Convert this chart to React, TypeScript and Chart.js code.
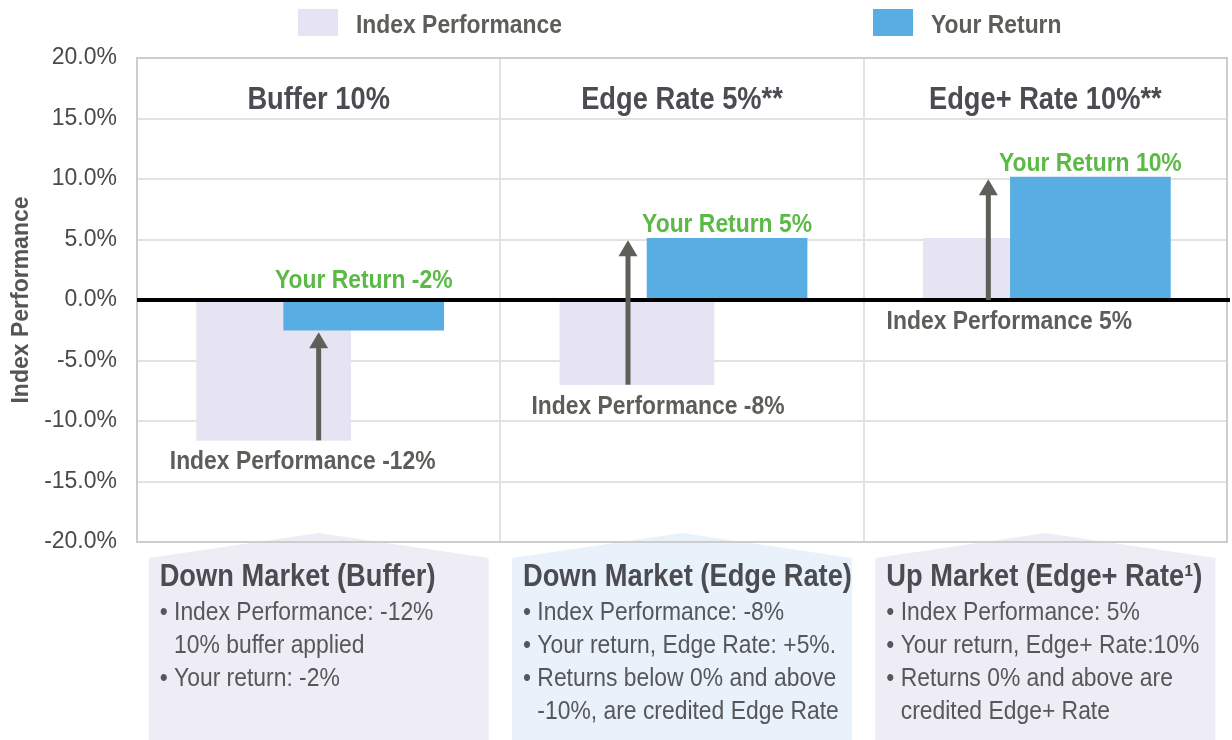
import React, { useEffect, useRef } from "react";
import { Chart, registerables } from "chart.js";

Chart.register(...registerables);

// ---------- data ----------
const CATEGORIES = ["Buffer 10%", "Edge Rate 5%**", "Edge+ Rate 10%**"];
const SERIES_NAMES = ["Index Performance", "Your Return"];
const INDEX_PERFORMANCE = [-11.6, -7.0, 5.1];
const YOUR_RETURN = [-2.5, 5.1, 10.15];
const Y_TICKS = [-20, -15, -10, -5, 0, 5, 10, 15, 20];
const RETURN_LABELS = ["Your Return -2%", "Your Return 5%", "Your Return 10%"];
const INDEX_LABELS = [
  "Index Performance -12%",
  "Index Performance -8%",
  "Index Performance 5%",
];
const BOX_TITLES = [
  "Down Market (Buffer)",
  "Down Market (Edge Rate)",
  "Up Market (Edge+ Rate\u00B9)",
];
// lines beginning with "• " are bullets, others continue the previous bullet
const BOX_LINES = [
  ["• Index Performance: -12%", "10% buffer applied", "• Your return: -2%"],
  [
    "• Index Performance: -8%",
    "• Your return, Edge Rate: +5%.",
    "• Returns below 0% and above",
    "-10%, are credited Edge Rate",
  ],
  [
    "• Index Performance: 5%",
    "• Your return, Edge+ Rate:10%",
    "• Returns 0% and above are",
    "credited Edge+ Rate",
  ],
];

// ---------- styles ----------
const FONT = '"Liberation Sans", Arial, sans-serif';
const SQUEEZE = 0.88; // narrow-font look
const INDEX_COLOR = "#e6e4f2";
const RETURN_COLOR = "#58aee2";
const GREEN = "#5bb946";
const LABEL_GRAY = "#5d5d59";
const TITLE_GRAY = "#4a4c51";
const ARROW_COLOR = "#5f5f5a";
const BOX_COLORS = ["#eeedf6", "#e9f1fa", "#eeedf6"];
const BAR_SHIFT = 0.124; // fraction of a panel
const ARROW_SHIFT = [0, -54, -57];
const INDEX_LABEL_SHIFT = [-16, -24, -36];

function narrowText(
  ctx: CanvasRenderingContext2D,
  str: string,
  x: number,
  y: number,
  font: string,
  color: string,
  align: CanvasTextAlign
) {
  ctx.save();
  ctx.font = font;
  ctx.fillStyle = color;
  ctx.textAlign = align;
  ctx.textBaseline = "alphabetic";
  ctx.translate(x, y);
  ctx.scale(SQUEEZE, 1);
  ctx.fillText(str, 0, 0);
  ctx.restore();
}

function drawArrow(ctx: CanvasRenderingContext2D, x: number, y0: number, y1: number) {
  const head = 16;
  const hw = 9.5;
  const shaft = 5;
  ctx.fillStyle = ARROW_COLOR;
  ctx.fillRect(x - shaft / 2, y1 + head - 1, shaft, y0 - (y1 + head - 1));
  ctx.beginPath();
  ctx.moveTo(x, y1);
  ctx.lineTo(x + hw, y1 + head);
  ctx.lineTo(x - hw, y1 + head);
  ctx.closePath();
  ctx.fill();
}

const decorPlugin = {
  id: "decor",
  beforeDraw(chart: any) {
    const ctx: CanvasRenderingContext2D = chart.ctx;
    const ca = chart.chartArea;
    const xs = chart.scales.x;
    ctx.save();
    // legend
    const legendX = [298, 873];
    const legendColors = [INDEX_COLOR, RETURN_COLOR];
    SERIES_NAMES.forEach((name, i) => {
      ctx.fillStyle = legendColors[i];
      ctx.fillRect(legendX[i], 9, 40, 27);
      narrowText(ctx, name, legendX[i] + 58, 33, `bold 26px ${FONT}`, LABEL_GRAY, "left");
    });
    // explanation boxes
    CATEGORIES.forEach((_, i) => {
      const cx = xs.getPixelForValue(i + 0.5);
      const w = 340;
      const l = cx - w / 2;
      const r = cx + w / 2;
      const peakY = ca.bottom - 9;
      const shoulderY = ca.bottom + 16;
      const bottom = chart.height;
      ctx.fillStyle = BOX_COLORS[i];
      ctx.beginPath();
      ctx.moveTo(l, bottom);
      ctx.lineTo(l, shoulderY);
      ctx.lineTo(cx, peakY);
      ctx.lineTo(r, shoulderY);
      ctx.lineTo(r, bottom);
      ctx.closePath();
      ctx.fill();
      const tx = l + 11;
      narrowText(ctx, BOX_TITLES[i], tx, ca.bottom + 44, `bold 31px ${FONT}`, TITLE_GRAY, "left");
      const bodyFont = `26px ${FONT}`;
      ctx.font = bodyFont;
      const indent = ctx.measureText("• ").width * SQUEEZE;
      BOX_LINES[i].forEach((line, j) => {
        const y = ca.bottom + 78 + j * 33;
        const x = line.startsWith("• ") ? tx : tx + indent;
        narrowText(ctx, line, x, y, bodyFont, "#55575a", "left");
      });
    });
    ctx.restore();
  },
  afterDatasetsDraw(chart: any) {
    const ctx: CanvasRenderingContext2D = chart.ctx;
    const ca = chart.chartArea;
    const xs = chart.scales.x;
    const ys = chart.scales.y;
    ctx.save();
    // plot border
    ctx.strokeStyle = "#cdcdcd";
    ctx.lineWidth = 2;
    ctx.strokeRect(ca.left, ca.top, ca.right - ca.left, ca.bottom - ca.top);
    // zero line
    const y0 = ys.getPixelForValue(0);
    ctx.strokeStyle = "#000";
    ctx.lineWidth = 4;
    ctx.beginPath();
    ctx.moveTo(ca.left, y0);
    ctx.lineTo(ca.right + 3, y0);
    ctx.stroke();

    const retMeta = chart.getDatasetMeta(1);
    CATEGORIES.forEach((cat, i) => {
      const cx = xs.getPixelForValue(i + 0.5);
      narrowText(ctx, cat, cx, ca.top + 51, `bold 31px ${FONT}`, TITLE_GRAY, "center");
      const idx = INDEX_PERFORMANCE[i];
      const ret = YOUR_RETURN[i];
      const start = ys.getPixelForValue(Math.min(idx, 0));
      const tip = ys.getPixelForValue(ret) + 2;
      drawArrow(ctx, cx + ARROW_SHIFT[i], start, tip);
      const rx = retMeta.data[i].x;
      const ry = ret >= 0 ? ys.getPixelForValue(ret) - 6 : y0 - 12;
      narrowText(ctx, RETURN_LABELS[i], rx, ry, `bold 26px ${FONT}`, GREEN, "center");
      const iy = ys.getPixelForValue(Math.min(idx, 0)) + 29;
      narrowText(ctx, INDEX_LABELS[i], cx + INDEX_LABEL_SHIFT[i], iy, `bold 26px ${FONT}`, LABEL_GRAY, "center");
    });
    ctx.restore();
  },
};

export default function App() {
  const ref = useRef<HTMLCanvasElement>(null);
  useEffect(() => {
    const canvas = ref.current;
    if (!canvas) return;
    const chart = new Chart(canvas, {
      type: "bar",
      data: {
        datasets: [
          {
            label: SERIES_NAMES[0],
            data: INDEX_PERFORMANCE.map((v, i) => ({ x: i + 0.5 - BAR_SHIFT, y: v })),
            backgroundColor: INDEX_COLOR,
            barThickness: 154,
            grouped: false,
            order: 2,
            borderWidth: 0,
          },
          {
            label: SERIES_NAMES[1],
            data: YOUR_RETURN.map((v, i) => ({ x: i + 0.5 + BAR_SHIFT, y: v })),
            backgroundColor: RETURN_COLOR,
            barThickness: 160,
            grouped: false,
            order: 1,
            borderWidth: 0,
          },
        ],
      },
      options: {
        responsive: false,
        animation: false,
        devicePixelRatio: 1,
        layout: { padding: { top: 58, bottom: 198, left: 0, right: 5 } },
        plugins: {
          legend: { display: false },
          tooltip: { enabled: false },
        },
        scales: {
          x: {
            type: "linear",
            min: 0,
            max: CATEGORIES.length,
            offset: false,
            ticks: { display: false, stepSize: 1 },
            grid: {
              offset: false,
              color: "#e2e2e2",
              lineWidth: 2,
              drawTicks: false,
            },
            border: { display: false },
          },
          y: {
            min: -20,
            max: 20,
            afterBuildTicks: (scale: any) => {
              scale.ticks = Y_TICKS.map((v) => ({ value: v }));
            },
            afterFit: (scale: any) => {
              scale.width = 137;
            },
            ticks: {
              padding: 20,
              color: "#4a4a4a",
              font: { family: FONT, size: 23 },
              callback: (v: any) => Number(v).toFixed(1) + "%",
            },
            grid: {
              color: (c: any) => (c.tick && c.tick.value === 0 ? "rgba(0,0,0,0)" : "#e2e2e2"),
              lineWidth: 2,
              drawTicks: false,
            },
            border: { display: false },
            title: {
              display: true,
              text: "Index Performance",
              color: "#555555",
              font: { family: FONT, size: 23, weight: "bold" },
              padding: { top: 8, bottom: 0 },
            },
          },
        },
      },
      plugins: [decorPlugin],
    });
    return () => chart.destroy();
  }, []);
  return (
    <canvas
      ref={ref}
      width={1232}
      height={740}
      style={{ position: "fixed", left: 0, top: 0, display: "block", background: "#fff" }}
    />
  );
}
